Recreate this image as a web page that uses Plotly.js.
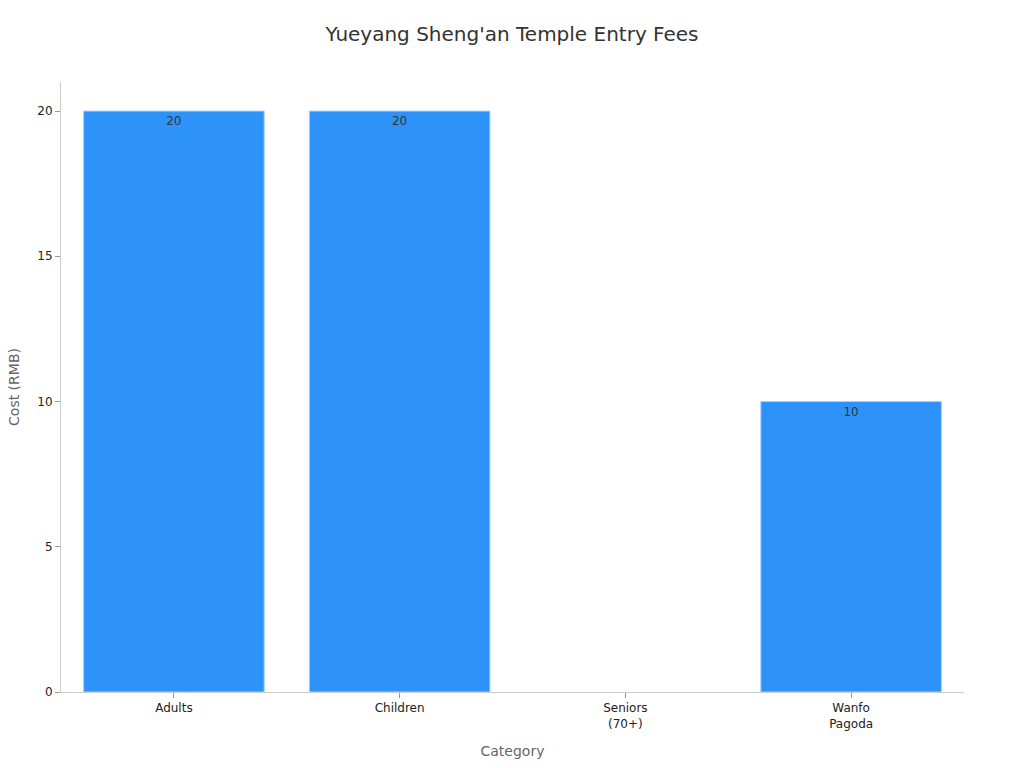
<!DOCTYPE html>
<html>
<head>
<meta charset="utf-8">
<script src="https://cdn.plot.ly/plotly-3.0.1.min.js"></script>
<style>
  html, body { margin: 0; padding: 0; background: #fff; }
  #chart { width: 1024px; height: 768px; }
</style>
</head>
<body>
<div id="chart"></div>
<script>
var categories = ['Adults', 'Children', 'Seniors<br>(70+)', 'Wanfo<br>Pagoda'];
var costs = [20, 20, 0, 10];
var labels = ['20', '20', '', '10'];

// no outline on the zero-height bar
var outlineWidths = costs.map(function(v){ return v > 0 ? 1 : 0; });

var trace = {
  type: 'bar',
  x: categories,
  y: costs,
  text: labels,
  textposition: 'inside',
  insidetextanchor: 'end',
  textfont: { family: 'DejaVu Sans', size: 12, color: '#333' },
  marker: {
    color: '#2E93F9',
    line: { color: '#A8D0FA', width: outlineWidths }
  },
  hoverinfo: 'x+y'
};

var layout = {
  width: 1024,
  height: 768,
  margin: { l: 61, r: 60, t: 82, b: 76 },
  paper_bgcolor: '#fff',
  plot_bgcolor: '#fff',
  font: { family: 'DejaVu Sans', color: '#333' },
  title: {
    text: "Yueyang Sheng'an Temple Entry Fees",
    font: { family: 'DejaVu Sans', size: 20, color: '#333' },
    x: 0.5,
    y: 0.965
  },
  bargap: 0.2,
  showlegend: false,
  xaxis: {
    title: { text: 'Category', font: { size: 14, color: '#666' }, standoff: 16 },
    tickfont: { size: 12, color: '#222' },
    showline: true,
    linecolor: '#ccc',
    ticks: 'outside',
    ticklen: 5,
    tickcolor: '#999',
    showgrid: false
  },
  yaxis: {
    title: { text: 'Cost (RMB)', font: { size: 14, color: '#666' }, standoff: 14 },
    tickfont: { size: 12, color: '#222' },
    range: [0, 21],
    dtick: 5,
    showline: true,
    linecolor: '#ccc',
    ticks: 'outside',
    ticklen: 5,
    tickcolor: '#999',
    showgrid: false,
    zeroline: false
  }
};

Plotly.newPlot('chart', [trace], layout, { displayModeBar: false });
</script>
</body>
</html>
